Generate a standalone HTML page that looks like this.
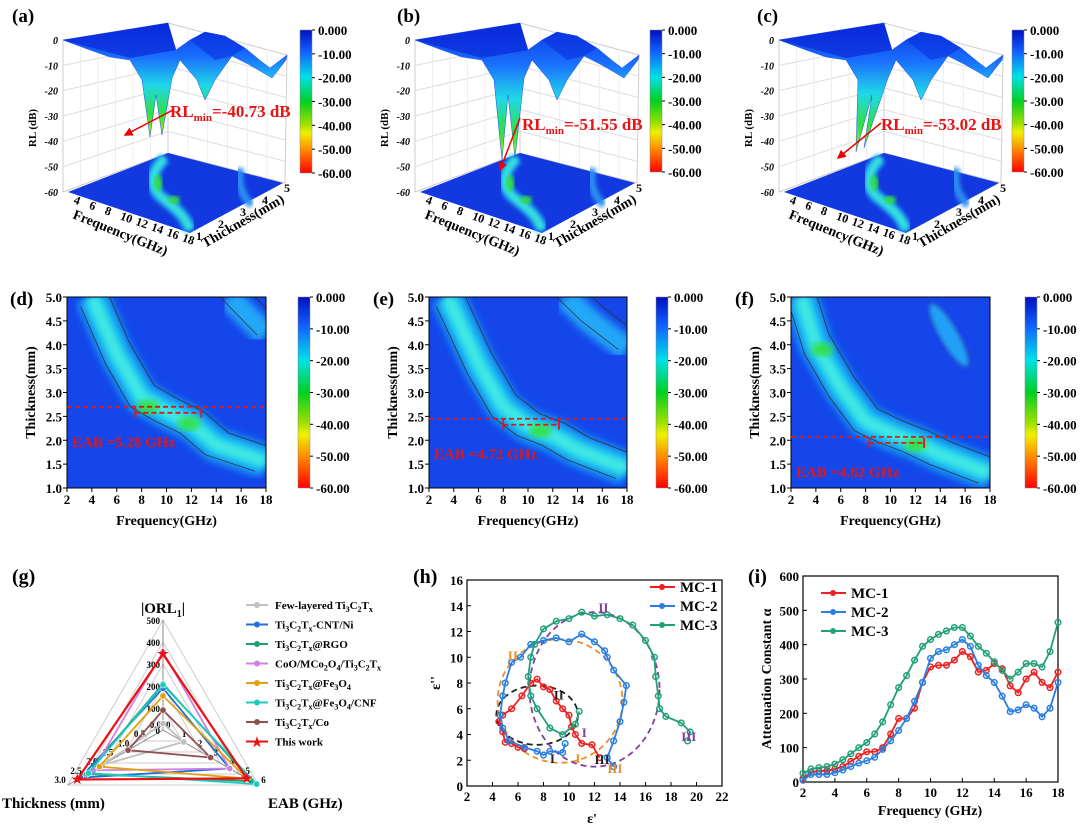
<!DOCTYPE html>
<html><head><meta charset="utf-8"><style>
body{margin:0;background:#fff}
svg{display:block;font-family:"Liberation Serif",serif;font-weight:bold}
</style></head><body>
<svg id="s" width="1080" height="826" viewBox="0 0 1080 826">
<defs>
<linearGradient id="cb" x1="0" y1="0" x2="0" y2="1">
<stop offset="0" stop-color="#0010c0"/><stop offset="0.15" stop-color="#1060ff"/><stop offset="0.33" stop-color="#00e0e8"/><stop offset="0.5" stop-color="#00d020"/><stop offset="0.66" stop-color="#a0e000"/><stop offset="0.72" stop-color="#f0f000"/><stop offset="0.85" stop-color="#ff8000"/><stop offset="1" stop-color="#ff0000"/>
</linearGradient>
<linearGradient id="surf" x1="0" y1="0" x2="0" y2="1">
<stop offset="0" stop-color="#0a30e0"/><stop offset="0.3" stop-color="#1a70ff"/><stop offset="0.55" stop-color="#20d8e8"/><stop offset="0.8" stop-color="#30e040"/><stop offset="1" stop-color="#c0f000"/>
</linearGradient>
<filter id="bl"><feGaussianBlur stdDeviation="4"/></filter>
<filter id="bl2"><feGaussianBlur stdDeviation="2"/></filter>
<marker id="ah" markerWidth="6" markerHeight="6" refX="5" refY="3" orient="auto"><path d="M0,0L6,3L0,6Z" fill="#e00"/></marker>
</defs>
</svg>
<script>
const S=document.getElementById('s');
const NS='http://www.w3.org/2000/svg';
function mk(tag,at,parent,txt){const e=document.createElementNS(NS,tag);for(const k in at)e.setAttribute(k,at[k]);if(txt!==undefined)e.innerHTML=txt;(parent||S).appendChild(e);return e;}

/* ---------- panel (i) data ---------- */
const iFreq=[2,2.5,3,3.5,4,4.5,5,5.5,6,6.5,7,7.5,8,8.5,9,9.5,10,10.5,11,11.5,12,12.5,13,13.5,14,14.5,15,15.5,16,16.5,17,17.5,18];
const iMC1=[10,28,32,33,38,45,60,75,88,88,100,140,185,185,215,290,335,340,340,355,380,365,320,325,345,330,280,260,300,320,290,275,320];
const iMC2=[5,22,22,22,27,35,45,55,62,72,95,120,150,185,235,290,360,380,385,400,415,395,340,310,290,250,205,210,225,215,190,215,290];
const iMC3=[25,38,42,45,52,65,82,100,115,140,175,225,275,310,355,395,415,430,440,450,450,425,395,375,350,325,300,320,345,345,335,380,465];
const iXTicks=[2,4,6,8,10,12,14,16,18];
const iYTicks=[0,100,200,300,400,500,600];
/* ---------- panel (h) data ---------- */
const hMC1x=[12.4,11.8,11,10.5,10.2,10,9.5,9,8.5,8,7.5,7,6.3,5.5,4.8,4.5,4.8,5,5.5,6,6.5];
const hMC1y=[2.2,3.2,3.3,4,4.6,5.5,6,6.6,7.5,7.7,8.3,8,7,6,5.5,5,4.2,3.4,3.3,3,2.9];
const hMC2x=[13.5,13,13.5,14,14.3,14.5,13.5,13,12.8,12,11,10,9,8,7,6.2,5.5,5,4.8,4.6,4.8,5.3,6.5,7.5,8,8.5,9.5,9.7];
const hMC2y=[1.5,2.2,3.5,5,6.5,7.8,9,10,10.5,11.2,11.8,11.2,11.5,11.3,11,10,9.6,8,7,5.5,4.5,3.5,3,2.7,2.4,2.7,2.6,3.3];
const hMC3x=[19.3,19.5,18.8,17.6,17.1,17,16.8,16.7,16,15,14,13,12,11,10,9,8,7.3,7,6.8,7,7.5,8.5,9.5,10.5,10.8];
const hMC3y=[3.5,4.2,4.9,5.4,6,7,8.5,10,11.3,12.5,13,13.3,13.2,13.5,13,12.8,12.2,11,10,8.5,7,6,4.5,4,4.8,5.8];
const hXTicks=[2,4,6,8,10,12,14,16,18,20,22];
const hYTicks=[0,2,4,6,8,10,12,14,16];
/* ---------- panel (g) data ---------- */
const gNames=['Few-layered Ti<tspan font-size="8" dy="3">3</tspan><tspan dy="-3">C</tspan><tspan font-size="8" dy="3">2</tspan><tspan dy="-3">T</tspan><tspan font-size="8" dy="3">x</tspan>',
'Ti<tspan font-size="8" dy="3">3</tspan><tspan dy="-3">C</tspan><tspan font-size="8" dy="3">2</tspan><tspan dy="-3">T</tspan><tspan font-size="8" dy="3">x</tspan><tspan dy="-3">-CNT/Ni</tspan>',
'Ti<tspan font-size="8" dy="3">3</tspan><tspan dy="-3">C</tspan><tspan font-size="8" dy="3">2</tspan><tspan dy="-3">T</tspan><tspan font-size="8" dy="3">x</tspan><tspan dy="-3">@RGO</tspan>',
'CoO/MCo<tspan font-size="8" dy="3">2</tspan><tspan dy="-3">O</tspan><tspan font-size="8" dy="3">4</tspan><tspan dy="-3">/Ti</tspan><tspan font-size="8" dy="3">3</tspan><tspan dy="-3">C</tspan><tspan font-size="8" dy="3">2</tspan><tspan dy="-3">T</tspan><tspan font-size="8" dy="3">x</tspan>',
'Ti<tspan font-size="8" dy="3">3</tspan><tspan dy="-3">C</tspan><tspan font-size="8" dy="3">2</tspan><tspan dy="-3">T</tspan><tspan font-size="8" dy="3">x</tspan><tspan dy="-3">@Fe</tspan><tspan font-size="8" dy="3">3</tspan><tspan dy="-3">O</tspan><tspan font-size="8" dy="3">4</tspan>',
'Ti<tspan font-size="8" dy="3">3</tspan><tspan dy="-3">C</tspan><tspan font-size="8" dy="3">2</tspan><tspan dy="-3">T</tspan><tspan font-size="8" dy="3">x</tspan><tspan dy="-3">@Fe</tspan><tspan font-size="8" dy="3">3</tspan><tspan dy="-3">O</tspan><tspan font-size="8" dy="3">4</tspan><tspan dy="-3">/CNF</tspan>',
'Ti<tspan font-size="8" dy="3">3</tspan><tspan dy="-3">C</tspan><tspan font-size="8" dy="3">2</tspan><tspan dy="-3">T</tspan><tspan font-size="8" dy="3">x</tspan><tspan dy="-3">/Co</tspan>',
'This work'];
const gColors=['#c0c0c0','#1f6fd8','#1fa070','#d080e0','#e0a010','#20c8c0','#905050','#ee1010'];
const gORL=[30,190,210,355,155,205,90,345];
const gThick=[1.9,2.6,2.4,2.2,2.0,2.35,1.1,2.7];
const gEAB=[1.3,4.2,5.6,4.2,5.3,5.9,3.0,5.28];

/* ---------- colorbars ---------- */
const cbLabels=['0.000','-10.00','-20.00','-30.00','-40.00','-50.00','-60.00'];
function colorbar(x,y0,y1,name){
  const g=mk('g',{});
  mk('rect',{x:x,y:y0,width:12,height:y1-y0,fill:'url(#cb)',stroke:'#888','stroke-width':0.5},g);
  cbLabels.forEach((l,i)=>{const y=y0+(y1-y0)*i/6;
    mk('line',{x1:x+12,x2:x+15,y1:y,y2:y,stroke:'#000'},g);
    mk('text',{x:x+18,y:y+5,'font-size':13},g,l);});
}

/* ---------- 3D panels ---------- */
const tops=[
 {dx:0,label:'(a)',rl:'-40.73',tx:170,ty:117,ax:173,ay:110,bx:125,by:135,dips:[[150,137],[162,135]]},
 {dx:352,label:'(b)',rl:'-51.55',tx:170,ty:130,ax:168,ay:118,bx:148,by:170,dips:[[150,160],[163,158]]},
 {dx:716,label:'(c)',rl:'-53.02',tx:165,ty:130,ax:165,ay:123,bx:122,by:158,dips:[[140,152],[148,148]]}];
tops.forEach((p,k)=>{
  const g=mk('g',{transform:`translate(${p.dx},0)`,});
  mk('text',{x:12-p.dx+[0,385,745][k],y:22,'font-size':19},g,p.label);
  mk('polygon',{points:'63,40 168,23 168,153 63,192',fill:'#fff',stroke:'#ccc'},g);
  mk('polygon',{points:'168,23 287,55 285,183 168,153',fill:'#fff',stroke:'#ccc'},g);
  for(let i=1;i<6;i++){const f=i/6;
    mk('line',{x1:63,y1:40+152*f,x2:168,y2:23+130*f,stroke:'#ddd'},g);
    mk('line',{x1:168,y1:23+130*f,x2:287,y2:55+128*f,stroke:'#ddd'},g);
    mk('line',{x1:63+105*f,y1:40-17*f,x2:63+105*f,y2:192-39*f,stroke:'#eee'},g);
    mk('line',{x1:168+119*f,y1:23+32*f,x2:168+119*f,y2:153+30*f,stroke:'#eee'},g);}
  mk('polygon',{points:'68,192 168,153 283,183 190,233',fill:'#1238e0'},g);
  mk('path',{d:'M165,158 C150,172 148,188 165,200 C178,210 186,218 190,230',stroke:'#20b8f0','stroke-width':12,fill:'none',filter:'url(#bl2)'},g);
  mk('path',{d:'M165,158 C150,172 148,188 165,200 C178,210 186,218 190,230',stroke:'#40f0d0','stroke-width':4,fill:'none',filter:'url(#bl2)'},g);
  mk('path',{d:'M240,168 C238,182 240,195 252,205',stroke:'#2a90f0','stroke-width':8,fill:'none',filter:'url(#bl2)'},g);
  mk('ellipse',{cx:158,cy:183,rx:4,ry:8,fill:'#30e040',filter:'url(#bl2)'},g);
  mk('ellipse',{cx:174,cy:200,rx:6,ry:4,fill:'#30e040',filter:'url(#bl2)'},g);
  const d=p.dips;
  mk('path',{d:`M63,40 L168,23 L176,50 L190,40 L205,32 L225,36 L245,48 L262,62 L270,68 L287,55 L286,60 L272,78 L262,72 L248,64 L232,56 L215,80 L205,100 L197,80 L180,60 L172,78 L${d[1][0]},${d[1][1]} L156,95 L${d[0][0]},${d[0][1]} L142,80 L130,60 L110,57 L90,50 Z`,fill:'url(#surf)',stroke:'#1a50f0','stroke-width':0.5},g);
  mk('path',{d:'M63,40 L168,23 L176,50 L130,58 Z',fill:'#0a28d8',opacity:0.7},g);
  mk('path',{d:'M190,40 L205,32 L225,36 L245,48 L232,56 L215,60 Z',fill:'#0a30e0',opacity:0.6},g);
  [0,-10,-20,-30,-40,-50,-60].forEach((v,i)=>mk('text',{x:58,y:44+25.3*i,'font-size':10,'text-anchor':'end','font-style':'italic'},g,v));
  mk('text',{x:0,y:0,'font-size':11,transform:'translate(36,128) rotate(-90)','text-anchor':'middle'},g,'RL (dB)');
  [4,6,8,10,12,14,16,18].forEach((v,i)=>mk('text',{x:73+i*15.5,y:203+i*5.4,'font-size':12,transform:`rotate(20 ${73+i*15.5} ${203+i*5.4})`},g,v));
  mk('text',{x:0,y:0,'font-size':14,transform:'translate(72,218) rotate(22)'},g,'Frequency(GHz)');
  [1,2,3,4,5].forEach((v,i)=>mk('text',{x:196+i*22,y:240-i*12,'font-size':12},g,v));
  mk('text',{x:0,y:0,'font-size':14,transform:'translate(205,248) rotate(-30)'},g,'Thickness(mm)');
  mk('line',{x1:p.ax,y1:p.ay,x2:p.bx,y2:p.by,stroke:'#e00','stroke-width':1.5,'marker-end':'url(#ah)'},g);
  mk('text',{x:p.tx,y:p.ty,'font-size':17,fill:'#e51515'},g,`RL<tspan font-size="11" dy="4">min</tspan><tspan dy="-4">=${p.rl} dB</tspan>`);
});
colorbar(300,30,173,'colorbar-a');colorbar(650,30,172,'colorbar-b');colorbar(1012,30,172,'colorbar-c');

/* ---------- heatmaps d e f ---------- */
const maps=[
 {x0:67,x1:266,lab:'(d)',lx:10,cb:298,eab:'5.28',line:2.7,a:7.5,b:12.8,
  band:[[4,5],[6,3.8],[8,2.9],[10,2.6],[12,2.35],[14,1.9],[18,1.55]],band2:[[15,5],[18,4.2]],blobs:[[8.5,2.7],[11.8,2.35]],ell:null},
 {x0:429,x1:627,lab:'(e)',lx:373,cb:656,eab:'4.72',line:2.45,a:8,b:12.5,
  band:[[3.5,5],[6,3.6],[8,2.7],[10,2.3],[12,2.1],[14,1.8],[18,1.4]],band2:[[13,5],[15,4.5],[18,3.9]],blobs:[[11,2.2]],ell:null},
 {x0:791,x1:990,lab:'(f)',lx:735,cb:1025,eab:'4.62',line:2.07,a:8.3,b:12.7,
  band:[[2.8,5],[4,4.0],[6,3.1],[8,2.4],[10,2.15],[12,1.95],[14,1.7],[18,1.3]],band2:null,blobs:[[4.5,3.9],[12,1.9]],ell:[14.7,4.2]}];
maps.forEach((m,k)=>{
  const g=mk('g',{});
  const y0=297,y1=488;
  const X=f=>m.x0+(f-2)/16*(m.x1-m.x0), Y=t=>y1-(t-1)/4*(y1-y0);
  mk('text',{x:m.lx,y:305,'font-size':19},g,m.lab);
  mk('clipPath',{id:'cp'+k},g).appendChild(mk('rect',{x:m.x0,y:y0,width:m.x1-m.x0,height:y1-y0},g));
  const c=mk('g',{'clip-path':`url(#cp${k})`},g);
  mk('rect',{x:m.x0,y:y0,width:m.x1-m.x0,height:y1-y0,fill:'#1446ea'},c);
  const pts=a=>a.map((p,i)=>(i?'L':'M')+X(p[0])+','+Y(p[1])).join(' ');
  mk('path',{d:pts(m.band),stroke:'#1898f4','stroke-width':34,fill:'none',filter:'url(#bl)'},c);
  mk('path',{d:pts(m.band),stroke:'#20d8ec','stroke-width':18,fill:'none',filter:'url(#bl)'},c);
  mk('path',{d:pts(m.band),stroke:'#50f0e0','stroke-width':7,fill:'none',filter:'url(#bl)'},c);
  if(m.band2){mk('path',{d:pts(m.band2),stroke:'#20a8f8','stroke-width':24,fill:'none',filter:'url(#bl)'},c);
    mk('path',{d:pts(m.band2.map(p=>[p[0]-0.7,p[1]])),stroke:'#333','stroke-width':0.8,fill:'none'},c);
    mk('path',{d:pts(m.band2.map(p=>[p[0]+1.0,p[1]+0.3])),stroke:'#333','stroke-width':0.8,fill:'none'},c);}
  m.blobs.forEach(b=>mk('ellipse',{cx:X(b[0]),cy:Y(b[1]),rx:11,ry:7,fill:'#30e040',filter:'url(#bl)'},c));
  mk('path',{d:pts(m.band.map(p=>[p[0]-0.9,p[1]-0.2])),stroke:'#333','stroke-width':0.8,fill:'none'},c);
  mk('path',{d:pts(m.band.map(p=>[p[0]+1.0,p[1]+0.25])),stroke:'#333','stroke-width':0.8,fill:'none'},c);
  if(m.ell)mk('ellipse',{cx:X(m.ell[0]),cy:Y(m.ell[1]),rx:9,ry:36,transform:`rotate(-30 ${X(m.ell[0])} ${Y(m.ell[1])})`,fill:'#20a0f8',stroke:'#333','stroke-width':0.8,filter:'url(#bl2)'},c);
  mk('rect',{x:m.x0,y:y0,width:m.x1-m.x0,height:y1-y0,fill:'none',stroke:'#000'},g);
  [1,1.5,2,2.5,3,3.5,4,4.5,5].forEach(t=>{mk('line',{x1:m.x0,x2:m.x0-4,y1:Y(t),y2:Y(t),stroke:'#000'},g);
    mk('text',{x:m.x0-5,y:Y(t)+5,'font-size':13,'text-anchor':'end'},g,t.toFixed(1));});
  [2,4,6,8,10,12,14,16,18].forEach(f=>{mk('line',{x1:X(f),x2:X(f),y1:y1,y2:y1+4,stroke:'#000'},g);
    mk('text',{x:X(f),y:y1+16,'font-size':13,'text-anchor':'middle'},g,f);});
  mk('text',{x:(m.x0+m.x1)/2,y:525,'font-size':14,'text-anchor':'middle'},g,'Frequency(GHz)');
  mk('text',{x:0,y:0,'font-size':14,'text-anchor':'middle',transform:`translate(${m.x0-32},${(y0+y1)/2}) rotate(-90)`},g,'Thickness(mm)');
  mk('line',{x1:m.x0,x2:m.x1,y1:Y(m.line),y2:Y(m.line),stroke:'#e51515','stroke-width':1.8,'stroke-dasharray':'5,3'},g);
  mk('line',{x1:X(m.a),x2:X(m.b),y1:Y(m.line)+6,y2:Y(m.line)+6,stroke:'#e51515','stroke-width':1.8,'stroke-dasharray':'5,3'},g);
  [m.a,m.b].forEach(v=>mk('line',{x1:X(v),x2:X(v),y1:Y(m.line)+1,y2:Y(m.line)+11,stroke:'#e51515','stroke-width':1.8},g));
  mk('text',{x:m.x0+5,y:Y(m.line)+40,'font-size':15,fill:'#e51515'},g,'EAB ='+m.eab+' GHz');
  colorbar(m.cb,y0,y1,'colorbar-'+'def'[k]);
});

/* ---------- panel g radar ---------- */
(function(){
  const g=mk('g',{});
  mk('text',{x:12,y:583,'font-size':20},g,'(g)');
  const cx=163,cy=730,L=110;
  const ang=[-90,150,30].map(a=>a*Math.PI/180);
  const P=(ai,f)=>[cx+Math.cos(ang[ai])*L*f,cy+Math.sin(ang[ai])*L*f];
  for(let i=1;i<=5;i++){const f=i/5;mk('polygon',{points:[0,1,2].map(a=>P(a,f).join(',')).join(' '),fill:'none',stroke:'#ccc'},g);}
  [0,1,2].forEach(a=>{const e=P(a,1);mk('line',{x1:cx,y1:cy,x2:e[0],y2:e[1],stroke:'#888'},g);});
  [0,100,200,300,400,500].forEach((v,i)=>{const p=P(0,i/5);mk('text',{x:p[0]-3,y:p[1]+4,'font-size':9,'text-anchor':'end'},g,v);});
  ['0.0','0.5','1.0','1.5','2.0','2.5','3.0'].forEach((v,i)=>{const p=P(1,i/6);mk('text',{x:p[0]-2,y:p[1]-2,'font-size':9,'text-anchor':'end'},g,v);});
  [0,1,2,3,4,5,6].forEach((v,i)=>{const p=P(2,i/6);mk('text',{x:p[0]+3,y:p[1]-2,'font-size':9},g,v);});
  mk('text',{x:cx,y:613,'font-size':15,'text-anchor':'middle'},g,'|ORL<tspan font-size="10" dy="4">1</tspan><tspan dy="-4">|</tspan>');
  mk('text',{x:2,y:808,'font-size':15},g,'Thickness (mm)');
  mk('text',{x:268,y:808,'font-size':15},g,'EAB (GHz)');
  gORL.forEach((v,i)=>{
    const pts=[P(0,v/500),P(1,gThick[i]/3),P(2,gEAB[i]/6)];
    const s=mk('g',{},g);
    
    
    mk('polygon',{points:pts.map(p=>p.join(',')).join(' '),fill:'none',stroke:gColors[i],'stroke-width':i==7?2.2:1.8},s);
    pts.forEach(p=>{ if(i==7) mk('text',{x:p[0],y:p[1]+4,'font-size':13,fill:gColors[i],'text-anchor':'middle'},s,'★');
      else mk('circle',{cx:p[0],cy:p[1],r:3.2,fill:gColors[i],stroke:'#fff','stroke-width':0.6},s);});
  });
  gNames.forEach((n,i)=>{const y=605+i*19.5;
    const le=mk('g',{},g);
    
    
    mk('line',{x1:246,x2:268,y1:y,y2:y,stroke:gColors[i],'stroke-width':2},le);
    if(i==7)mk('text',{x:257,y:y+5,'font-size':13,fill:gColors[i],'text-anchor':'middle'},le,'★');
    else mk('circle',{cx:257,cy:y,r:3,fill:gColors[i]},le);
    mk('text',{x:275,y:y+4,'font-size':11},le,n);});
})();

/* ---------- generic line plot ---------- */
function axesPlot(o){
  const g=mk('g',{});
  const X=v=>o.x0+(v-o.xmin)/(o.xmax-o.xmin)*(o.x1-o.x0), Y=v=>o.y1-(v-o.ymin)/(o.ymax-o.ymin)*(o.y1-o.y0);
  mk('rect',{x:o.x0,y:o.y0,width:o.x1-o.x0,height:o.y1-o.y0,fill:'none',stroke:'#000','stroke-width':1.2},g);
  o.xt.forEach(v=>{mk('line',{x1:X(v),x2:X(v),y1:o.y1,y2:o.y1-4,stroke:'#000'},g);
    mk('text',{x:X(v),y:o.y1+15,'font-size':13,'text-anchor':'middle'},g,v);});
  o.yt.forEach(v=>{mk('line',{x1:o.x0,x2:o.x0+4,y1:Y(v),y2:Y(v),stroke:'#000'},g);
    mk('text',{x:o.x0-4,y:Y(v)+5,'font-size':13,'text-anchor':'end'},g,v);});
  return {g,X,Y};
}
function series(ctx,xs,ys,col,name){
  const s=mk('g',{},ctx.g);
  
  
  mk('polyline',{points:xs.map((x,i)=>ctx.X(x)+','+ctx.Y(ys[i])).join(' '),fill:'none',stroke:col,'stroke-width':1.8},s);
  xs.forEach((x,i)=>mk('circle',{cx:ctx.X(x),cy:ctx.Y(ys[i]),r:2.8,fill:'none',stroke:col,'stroke-width':1.5},s));
}
const sc=['#ee2020','#2a7fe0','#22a07a'];
function legend(ctx,x,y){['MC-1','MC-2','MC-3'].forEach((n,i)=>{
  const le=mk('g',{},ctx.g);
  
  
  mk('line',{x1:x,x2:x+25,y1:y+i*19,y2:y+i*19,stroke:sc[i],'stroke-width':2},le);
  mk('circle',{cx:x+12,cy:y+i*19,r:3,fill:sc[i]},le);
  mk('text',{x:x+30,y:y+i*19+5,'font-size':15},le,n);});}

/* panel h */
const h=axesPlot({name:'cole-cole-plot-h',x0:467,x1:722,y0:580,y1:786,xmin:2,xmax:22,ymin:0,ymax:16,xt:hXTicks,yt:hYTicks});
mk('text',{x:413,y:583,'font-size':20},h.g,'(h)');
mk('text',{x:592,y:823,'font-size':14,'text-anchor':'middle'},h.g,"ε'");
mk('text',{x:0,y:0,'font-size':14,'text-anchor':'middle',transform:'translate(440,683) rotate(-90)'},h.g,"ε''");
const sx=(h.X(1)-h.X(0)), sy=(h.Y(0)-h.Y(1));
[[7.5,5.5,3.2,2.3,'#222'],[9.3,6.6,4.9,4.8,'#e89030'],[12,7.5,5.1,6,'#8040a0']].forEach(e=>mk('ellipse',{cx:h.X(e[0]),cy:h.Y(e[1]),rx:e[2]*sx,ry:e[3]*sy,fill:'none',stroke:e[4],'stroke-width':1.8,'stroke-dasharray':'6,4'},h.g));
series(h,hMC1x,hMC1y,sc[0],'series-mc-1-h');
series(h,hMC2x,hMC2y,sc[1],'series-mc-2-h');
series(h,hMC3x,hMC3y,sc[2],'series-mc-3-h');
[['I',8.5,1.8,'#222'],['II',8.8,6.7,'#222'],['III',12,1.7,'#222'],['I',10.5,1.8,'#e89030'],['II',5.2,9.8,'#e89030'],['III',13,1,'#e89030'],['I',11,3.8,'#8040a0'],['II',12.3,13.5,'#8040a0'],['III',18.8,3.5,'#8040a0']].forEach(t=>mk('text',{x:h.X(t[1]),y:h.Y(t[2]),'font-size':13,fill:t[3]},h.g,t[0]));
legend(h,650,587);

/* panel i */
const ip=axesPlot({name:'attenuation-plot-i',x0:803,x1:1058,y0:576,y1:782,xmin:2,xmax:18,ymin:0,ymax:600,xt:iXTicks,yt:iYTicks});
mk('text',{x:748,y:583,'font-size':20},ip.g,'(i)');
mk('text',{x:930,y:815,'font-size':14,'text-anchor':'middle'},ip.g,'Frequency (GHz)');
mk('text',{x:0,y:0,'font-size':14,'text-anchor':'middle',transform:'translate(771,679) rotate(-90)'},ip.g,'Attenuation Constant α');
series(ip,iFreq,iMC1,sc[0],'series-mc-1-i');
series(ip,iFreq,iMC2,sc[1],'series-mc-2-i');
series(ip,iFreq,iMC3,sc[2],'series-mc-3-i');
legend(ip,821,593);
</script>
</body></html>
